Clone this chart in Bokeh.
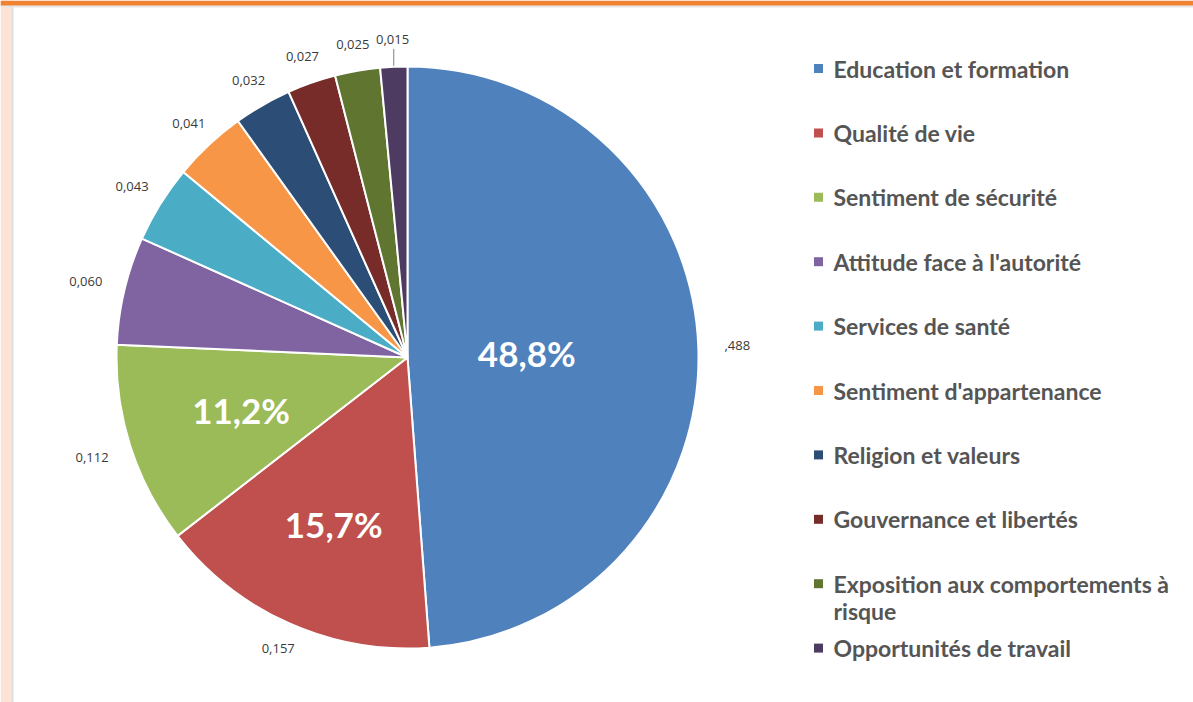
import numpy as np
from bokeh.plotting import figure
from bokeh.models import ColumnDataSource
from bokeh.core.properties import value
from bokeh.embed import file_html
from bokeh.resources import INLINE

# ---- data ----
categories = ["Education et formation", "Qualité de vie", "Sentiment de sécurité",
              "Attitude face à l'autorité", "Services de santé", "Sentiment d'appartenance",
              "Religion et valeurs", "Gouvernance et libertés",
              "Exposition aux comportements à\nrisque", "Opportunités de travail"]
values = [0.488, 0.157, 0.112, 0.060, 0.043, 0.041, 0.032, 0.027, 0.025, 0.015]
value_labels = [",488", "0,157", "0,112", "0,060", "0,043", "0,041", "0,032", "0,027", "0,025", "0,015"]
pct_labels = ["48,8%", "15,7%", "11,2%"]
colors = ["#4F81BD", "#C0504D", "#9BBB59", "#8064A2", "#4BACC6", "#F79646",
          "#2C4D75", "#772C2A", "#5F7530", "#4D3B62"]

W, H = 1193, 702
p = figure(width=W, height=H, x_range=(0, W), y_range=(0, H),
           output_backend="svg", toolbar_location=None, min_border=0)
p.axis.visible = False
p.grid.visible = False
p.outline_line_color = None
p.background_fill_color = "white"
p.border_fill_color = "white"

# decorative frame: left strip and top bar
p.quad(left=0, right=11, bottom=0, top=H, fill_color="#FDE3D6", line_color=None)
p.quad(left=11, right=13, bottom=0, top=H - 5, fill_color="#DCDCDC", line_color=None)
p.quad(left=0, right=W, bottom=H - 7, top=H - 5, fill_color="#E6E6E6", line_color=None)
p.quad(left=0, right=W, bottom=H - 5, top=H, fill_color="#F08232", line_color=None)

cx, cy, R = 407, 345, 291
vals = np.array(values)
frac = vals / vals.sum()
cum = np.cumsum(frac)
starts = np.concatenate([[0], cum[:-1]])
start_angle = np.pi / 2 - 2 * np.pi * cum
end_angle = np.pi / 2 - 2 * np.pi * starts
mid = (start_angle + end_angle) / 2

src = ColumnDataSource(dict(start=start_angle, end=end_angle, color=colors))
p.wedge(x=cx, y=cy, radius=R, start_angle="start", end_angle="end",
        fill_color="color", line_color="white", line_width=2, source=src)

# outside value labels
dx, dy = np.cos(mid), np.sin(mid)
hw, hh, gap = 19.0, 7.0, 20.0
t = np.minimum(hw / np.maximum(np.abs(dx), 1e-6), hh / np.maximum(np.abs(dy), 1e-6))
dist = R + gap + t
lx = cx + dist * dx
ly = cy + dist * dy
p.text(x=lx, y=ly, text=value_labels, text_align="center", text_baseline="middle",
       text_font=value("Open Sans"), text_font_size="13px", text_color="#3A3A3A")

# leader line for the smallest slice
i = len(values) - 1
ex, ey = cx + (R + 1) * dx[i], cy + (R + 1) * dy[i]
p.segment(x0=[ex], y0=[ey], x1=[ex], y1=[ly[i] - 9], line_color="#7F7F7F", line_width=1)

# inside percentage labels
rfrac = [0.41, 0.625, 0.60]
px = [cx + rf * R * np.cos(mid[k]) for k, rf in enumerate(rfrac)]
py = [cy + rf * R * np.sin(mid[k]) for k, rf in enumerate(rfrac)]
p.text(x=px, y=py, text=pct_labels, text_align="center", text_baseline="middle",
       text_font=value("Lato"), text_font_style="bold", text_font_size="35px",
       text_color="white")

# legend
lg_x, lg_y0, lg_step, lg_line = 814, 634, -64.4, 27
sq_x, sq_y, tx, ty, tt = [], [], [], [], []
for k, cat in enumerate(categories):
    yc = lg_y0 + k * lg_step
    sq_x.append(lg_x + 4)
    sq_y.append(yc)
    for j, line in enumerate(cat.split("\n")):
        tx.append(lg_x + 19)
        ty.append(yc - j * lg_line)
        tt.append(line)
p.scatter(x=sq_x, y=sq_y, marker="square", size=9, fill_color=colors, line_color=None)
p.text(x=tx, y=ty, text=tt, text_align="left", text_baseline="middle",
       text_font=value("Lato"), text_font_style="bold", text_font_size="23px",
       text_color="#555555")

open("out.html", "w").write(file_html(p, INLINE))
